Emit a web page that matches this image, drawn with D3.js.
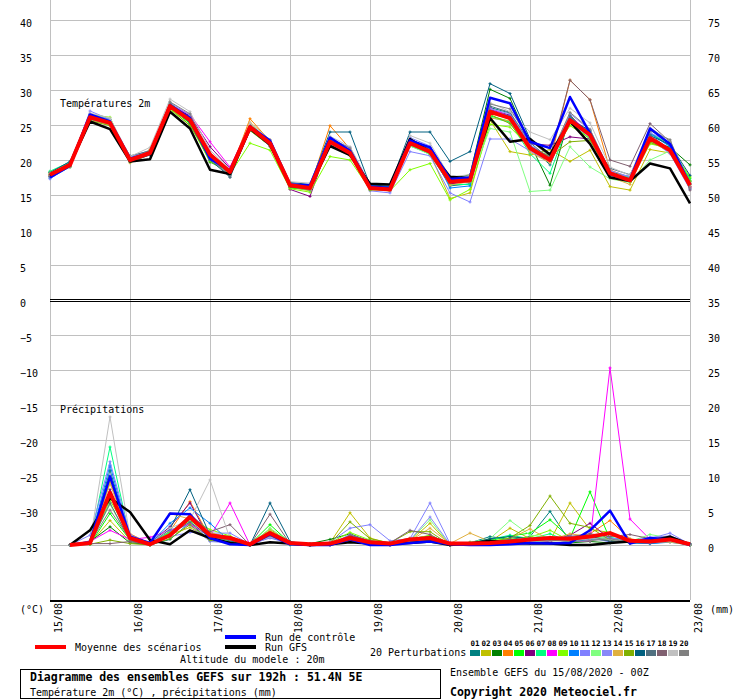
<!DOCTYPE html>
<html>
<head>
<meta charset="utf-8">
<script src="https://cdn.jsdelivr.net/npm/d3@7"></script>
<style>
  body { margin: 0; background: #fff; }
  svg { display: block; font-family: "DejaVu Sans Mono", monospace; }
</style>
</head>
<body>
<svg id="chart" width="740" height="700"></svg>
<script>
// GEFS ensemble 15/08/2020 00Z, 51.4N 5E : 2m temperature (every 6h, 0..192h)
// and precipitation (every 6h, 6..192h)

const dayLabels = ["15/08", "16/08", "17/08", "18/08", "19/08", "20/08", "21/08", "22/08", "23/08"];
const leftTicks = [-35, -30, -25, -20, -15, -10, -5, 0, 5, 10, 15, 20, 25, 30, 35, 40];

const pertColors = ["#008080", "#c0c000", "#008000", "#ff8000", "#00ff00", "#800080", "#00ff80", "#ff00ff",
  "#80ff00", "#0080ff", "#8080ff", "#80ff80", "#8888f8", "#e0b040", "#80b000", "#006080",
  "#507080", "#806070", "#c0c0c0", "#808080"];

const tempMean = [17.9, 19.3, 26.1, 25.3, 20.0, 21.0, 27.7, 25.7, 20.8, 18.3, 24.7, 22.4, 16.4, 16.0, 22.6, 21.0, 16.0, 15.8, 22.4, 21.2, 16.9, 17.1, 26.9, 26.0, 21.7, 20.0, 25.7, 23.6, 18.1, 17.1, 23.1, 21.4, 16.4];
const tempControl = [17.5, 19.2, 26.5, 25.5, 20.2, 21.0, 27.8, 26.0, 20.2, 18.5, 24.8, 22.8, 16.5, 16.4, 23.2, 21.3, 16.2, 16.0, 22.8, 21.8, 17.3, 17.5, 28.9, 28.1, 22.6, 21.7, 29.0, 23.8, 18.0, 17.2, 24.5, 22.3, 16.5];
const tempGfs = [17.8, 19.4, 25.5, 24.4, 19.8, 20.1, 26.9, 24.5, 18.6, 18.0, 24.5, 22.2, 16.3, 16.2, 22.0, 20.7, 16.6, 16.5, 23.0, 21.2, 17.6, 17.4, 26.0, 22.6, 23.0, 20.8, 25.5, 22.3, 17.5, 17.0, 19.5, 18.8, 13.8];

const tempPert = [
  [18.3, 19.6, 26.3, 25.6, 20.3, 21.2, 28.0, 26.2, 20.3, 18.0, 24.3, 22.0, 16.2, 16.3, 22.4, 20.8, 16.1, 16.2, 22.0, 21.0, 16.3, 16.6, 27.5, 26.7, 22.0, 19.3, 26.0, 24.0, 17.8, 17.3, 23.9, 22.0, 16.9],
  [18.0, 19.0, 25.8, 25.0, 19.6, 20.8, 27.4, 25.3, 20.6, 18.6, 25.2, 22.6, 16.1, 15.6, 22.9, 21.3, 16.3, 15.9, 22.2, 20.9, 14.5, 15.3, 25.7, 21.2, 20.7, 21.5, 19.8, 21.4, 16.2, 15.7, 21.5, 21.0, 16.0],
  [17.6, 19.4, 26.0, 25.1, 20.2, 21.1, 27.9, 25.5, 19.7, 18.4, 24.6, 22.3, 16.6, 16.3, 22.1, 20.8, 15.9, 16.1, 22.5, 21.4, 17.3, 17.9, 30.1, 28.8, 22.4, 16.4, 26.4, 23.5, 18.3, 17.6, 22.8, 21.8, 19.3],
  [17.8, 19.1, 26.4, 25.5, 20.1, 21.3, 27.6, 26.0, 20.9, 18.2, 25.9, 22.7, 16.5, 16.1, 24.9, 21.6, 16.2, 15.9, 22.9, 21.5, 17.0, 16.8, 26.6, 25.9, 21.4, 19.8, 31.4, 28.6, 18.6, 17.4, 23.3, 21.6, 16.7],
  [18.2, 19.5, 26.5, 25.8, 19.9, 20.9, 27.5, 25.2, 20.4, 18.6, 24.4, 22.1, 16.0, 15.8, 22.3, 20.9, 16.1, 15.7, 22.6, 21.1, 16.7, 17.3, 26.3, 25.5, 21.9, 20.4, 25.3, 23.0, 17.9, 16.8, 22.7, 21.3, 17.4],
  [17.7, 19.2, 25.9, 25.2, 20.4, 20.9, 27.8, 26.3, 21.9, 18.8, 24.9, 22.5, 15.8, 14.8, 22.8, 21.4, 15.9, 15.6, 22.2, 21.3, 16.6, 16.9, 27.2, 26.4, 22.3, 22.1, 23.3, 23.0, 18.0, 17.0, 22.9, 21.1, 16.2],
  [18.4, 19.7, 26.2, 25.4, 20.3, 21.2, 28.1, 25.9, 20.1, 17.9, 24.5, 22.2, 16.3, 16.1, 22.7, 21.1, 15.8, 15.9, 22.1, 20.8, 16.5, 16.5, 26.1, 25.4, 20.9, 18.1, 25.9, 23.4, 18.2, 17.5, 23.7, 22.4, 17.1],
  [17.9, 19.3, 26.0, 25.3, 20.1, 20.8, 27.9, 26.5, 22.6, 19.0, 24.8, 22.6, 16.4, 15.9, 23.2, 21.5, 16.4, 15.8, 23.0, 21.6, 17.1, 17.2, 27.4, 26.2, 21.6, 20.2, 26.2, 23.9, 18.4, 17.0, 23.4, 21.2, 16.1],
  [18.1, 19.1, 26.5, 26.1, 19.9, 21.2, 27.2, 25.0, 19.8, 18.0, 22.4, 21.4, 15.9, 15.4, 20.5, 20.0, 15.8, 15.6, 18.6, 19.5, 14.3, 15.8, 25.1, 24.7, 21.8, 20.6, 24.9, 23.1, 17.6, 16.9, 22.3, 21.7, 17.6],
  [17.4, 19.0, 26.1, 25.1, 20.2, 21.0, 27.5, 25.6, 20.5, 18.1, 24.9, 22.4, 16.6, 16.4, 22.5, 21.2, 16.3, 16.1, 22.7, 21.7, 16.0, 16.3, 27.0, 26.3, 22.1, 19.9, 26.1, 23.7, 17.7, 17.3, 23.8, 21.9, 16.6],
  [17.3, 19.2, 27.0, 25.8, 20.4, 21.4, 27.6, 25.4, 20.2, 17.8, 24.6, 22.2, 16.7, 16.2, 22.2, 20.8, 15.6, 15.3, 21.2, 20.6, 15.3, 14.0, 23.0, 23.0, 21.3, 19.6, 25.4, 23.2, 18.0, 17.7, 23.0, 20.9, 15.8],
  [18.3, 19.5, 26.2, 25.6, 20.0, 21.1, 27.7, 25.8, 20.7, 18.5, 24.8, 22.7, 16.2, 15.7, 22.4, 20.7, 16.4, 16.0, 22.0, 20.8, 16.8, 17.0, 24.5, 24.0, 15.5, 15.7, 21.9, 19.0, 17.3, 16.8, 20.0, 21.3, 16.9],
  [17.6, 19.6, 26.6, 25.7, 20.5, 20.8, 28.2, 26.4, 21.0, 18.6, 24.7, 22.9, 16.6, 16.1, 23.0, 21.8, 16.5, 16.3, 23.2, 22.0, 17.4, 17.3, 27.3, 26.6, 22.2, 20.3, 26.6, 24.3, 18.5, 17.6, 23.9, 22.5, 15.9],
  [17.8, 19.0, 25.7, 25.0, 19.7, 21.5, 27.3, 25.5, 20.8, 18.3, 25.4, 22.9, 16.3, 15.8, 22.6, 21.0, 16.0, 15.7, 22.4, 21.4, 16.4, 16.9, 26.0, 25.6, 21.1, 19.6, 25.6, 23.6, 17.6, 16.5, 22.6, 21.2, 16.3],
  [18.0, 19.4, 25.6, 24.9, 20.2, 21.0, 27.4, 24.9, 20.3, 18.2, 24.2, 22.0, 16.1, 15.9, 22.0, 20.6, 15.7, 15.8, 22.3, 20.9, 16.9, 17.0, 26.5, 25.2, 21.5, 20.5, 22.6, 22.8, 17.9, 17.2, 22.5, 21.5, 17.0],
  [18.2, 19.8, 26.4, 25.2, 19.8, 20.7, 27.8, 25.3, 20.0, 17.6, 24.5, 22.1, 16.8, 16.5, 24.0, 24.0, 16.4, 16.3, 24.0, 24.0, 19.8, 21.2, 30.9, 29.5, 23.0, 20.8, 25.8, 24.2, 17.9, 17.2, 23.5, 22.2, 17.8],
  [17.6, 19.1, 25.9, 25.5, 20.6, 21.3, 28.1, 26.0, 20.4, 17.5, 24.3, 22.2, 16.5, 16.3, 22.8, 20.9, 16.2, 16.0, 22.7, 21.6, 17.2, 17.0, 27.7, 26.8, 22.5, 20.1, 26.3, 23.3, 18.8, 17.9, 23.6, 21.5, 16.5],
  [17.9, 19.4, 26.3, 25.3, 20.0, 21.2, 27.9, 25.9, 20.6, 18.4, 24.9, 22.3, 16.6, 16.1, 22.5, 21.4, 16.1, 15.9, 22.5, 21.0, 16.7, 17.4, 27.1, 25.8, 22.0, 20.4, 31.4, 28.6, 20.0, 19.1, 25.2, 22.6, 15.7],
  [18.1, 19.5, 26.7, 26.0, 20.5, 21.8, 28.7, 26.9, 21.4, 18.7, 25.3, 22.9, 16.9, 16.7, 23.4, 21.9, 16.6, 16.4, 23.5, 22.4, 17.6, 17.9, 28.2, 26.9, 24.0, 22.9, 27.4, 25.3, 19.0, 17.8, 24.6, 22.8, 16.6],
  [17.7, 19.3, 25.8, 25.1, 19.7, 20.9, 28.3, 26.6, 20.1, 17.8, 24.6, 21.9, 16.2, 15.7, 23.1, 21.7, 16.2, 15.8, 22.9, 21.8, 17.0, 17.6, 28.0, 27.3, 22.8, 20.5, 26.8, 24.4, 18.3, 17.1, 24.2, 22.9, 16.0]
];

const precipMean = [0.0, 0.3, 7.5, 1.0, 0.1, 1.4, 4.0, 1.4, 1.0, 0.1, 1.7, 0.3, 0.1, 0.2, 1.0, 0.4, 0.2, 0.8, 1.0, 0.2, 0.2, 0.3, 0.5, 0.8, 1.0, 0.9, 1.2, 1.7, 0.6, 0.5, 0.8, 0.1];
const precipControl = [0.0, 0.4, 9.8, 1.2, 0.3, 4.5, 4.4, 1.0, 0.1, 0.0, 1.5, 0.1, 0.0, 0.0, 0.8, 0.0, 0.0, 0.3, 0.5, 0.1, 0.0, 0.0, 0.1, 0.3, 0.2, 0.3, 2.1, 4.9, 0.2, 1.0, 0.8, 0.0];
const precipGfs = [0.0, 2.1, 6.7, 4.7, 0.7, 0.1, 2.1, 1.0, 0.3, 0.0, 0.4, 0.2, 0.0, 0.1, 0.4, 0.2, 0.2, 0.3, 0.5, 0.0, 0.2, 0.6, 0.3, 0.2, 0.2, 0.0, 0.0, 0.3, 0.5, 0.6, 1.2, 0.1];

const precipPert = [
  [0.0, 0.3, 10.7, 0.8, 0.0, 0.8, 3.2, 0.6, 0.4, 0.0, 1.2, 0.1, 0.0, 0.0, 0.6, 0.2, 0.0, 0.4, 0.7, 0.0, 0.3, 1.2, 0.8, 1.2, 4.8, 0.5, 1.0, 0.6, 0.3, 0.2, 0.5, 0.0],
  [0.0, 0.2, 3.5, 0.5, 0.2, 1.5, 2.5, 0.9, 0.5, 0.0, 1.8, 0.2, 0.0, 0.3, 4.6, 1.0, 0.2, 0.6, 3.1, 0.0, 0.4, 0.5, 2.4, 0.9, 0.6, 6.0, 2.2, 1.8, 0.3, 0.4, 0.7, 0.0],
  [0.0, 0.5, 2.6, 0.3, 0.1, 1.2, 3.8, 1.3, 0.7, 0.0, 1.9, 0.4, 0.2, 0.8, 1.6, 0.5, 0.1, 0.5, 0.8, 0.0, 0.2, 0.4, 0.6, 0.5, 0.4, 0.3, 0.5, 0.3, 0.6, 0.8, 1.0, 0.1],
  [0.0, 0.4, 9.0, 1.6, 0.2, 2.0, 6.2, 1.1, 0.8, 0.0, 2.3, 0.2, 0.0, 0.1, 0.9, 0.3, 0.3, 1.0, 0.7, 0.0, 0.1, 0.3, 0.5, 0.7, 0.8, 1.1, 1.6, 3.5, 0.9, 0.4, 0.6, 0.0],
  [0.0, 0.1, 4.5, 0.7, 0.0, 1.8, 3.5, 1.6, 1.2, 0.1, 2.9, 0.3, 0.0, 0.2, 1.2, 0.4, 0.2, 0.6, 1.0, 0.1, 0.2, 0.6, 1.3, 1.7, 3.6, 1.0, 7.6, 0.8, 0.4, 0.6, 0.9, 0.2],
  [0.0, 0.2, 7.9, 1.1, 0.3, 2.6, 6.0, 0.8, 0.2, 0.0, 1.4, 0.3, 0.1, 0.2, 1.3, 0.6, 0.0, 0.9, 1.3, 0.3, 0.2, 0.2, 0.4, 0.3, 0.5, 1.4, 3.1, 0.9, 0.5, 0.3, 0.6, 0.1],
  [0.0, 0.3, 14.0, 0.9, 0.2, 1.9, 4.0, 1.5, 0.9, 0.0, 1.8, 0.0, 0.0, 0.1, 0.7, 0.3, 0.1, 0.4, 0.6, 0.0, 0.3, 0.8, 1.4, 0.9, 1.6, 0.4, 1.2, 1.1, 0.6, 0.5, 1.1, 0.0],
  [0.0, 0.5, 2.1, 0.8, 1.1, 2.1, 3.0, 1.2, 6.0, 0.0, 1.6, 0.1, 0.0, 0.2, 0.5, 0.1, 0.0, 0.6, 0.9, 0.0, 0.1, 0.2, 0.3, 0.4, 0.2, 0.5, 0.6, 25.3, 3.7, 0.8, 0.5, 0.0],
  [0.0, 0.2, 6.4, 1.4, 0.1, 1.7, 3.9, 2.2, 1.3, 0.0, 2.1, 0.3, 0.0, 0.3, 1.8, 0.7, 0.2, 0.8, 1.4, 0.1, 0.3, 0.5, 1.0, 1.1, 2.1, 0.6, 1.4, 0.7, 0.4, 0.7, 0.8, 0.1],
  [0.0, 0.4, 11.4, 1.0, 0.2, 3.1, 5.3, 3.1, 0.5, 0.0, 1.3, 0.2, 0.0, 0.0, 1.1, 0.4, 0.0, 0.5, 0.8, 0.0, 0.2, 0.3, 0.5, 0.6, 0.9, 0.4, 0.8, 0.9, 0.3, 0.2, 0.4, 0.0],
  [0.0, 1.4, 11.9, 1.5, 0.2, 1.2, 1.8, 1.7, 1.7, 0.1, 1.0, 0.2, 0.0, 0.4, 2.4, 2.9, 0.6, 0.9, 6.0, 0.2, 0.3, 0.4, 0.6, 0.5, 1.0, 0.7, 1.3, 1.0, 0.7, 0.9, 1.7, 0.1],
  [0.0, 0.3, 5.8, 0.6, 0.1, 1.4, 3.4, 1.0, 0.6, 0.0, 2.4, 0.4, 0.0, 0.2, 0.8, 0.2, 0.0, 0.7, 3.6, 0.0, 0.4, 0.9, 3.5, 1.4, 1.1, 0.8, 1.5, 0.8, 0.5, 1.5, 1.0, 0.0],
  [0.0, 0.6, 10.0, 1.3, 0.3, 2.2, 2.8, 0.5, 0.3, 0.0, 1.1, 0.2, 0.0, 0.1, 1.5, 0.5, 0.3, 0.7, 4.0, 0.1, 0.2, 0.3, 0.7, 0.8, 0.6, 1.3, 1.1, 0.4, 0.6, 1.1, 1.3, 0.2],
  [0.0, 0.3, 8.8, 0.9, 0.1, 4.5, 3.7, 1.8, 1.0, 0.0, 2.0, 0.3, 0.1, 0.3, 0.9, 0.3, 0.2, 0.6, 2.4, 0.2, 1.7, 0.5, 0.9, 2.3, 0.7, 1.6, 1.2, 0.6, 0.4, 0.5, 0.4, 0.0],
  [0.0, 0.1, 0.7, 0.2, 0.0, 0.9, 2.9, 0.7, 0.4, 0.0, 1.7, 0.2, 0.0, 0.2, 3.3, 0.9, 0.3, 1.9, 1.9, 0.0, 0.1, 0.4, 1.0, 2.8, 7.0, 3.1, 2.5, 0.7, 0.3, 0.6, 0.5, 0.0],
  [0.0, 0.4, 9.6, 1.2, 0.2, 2.3, 7.9, 1.4, 0.6, 0.0, 6.0, 0.5, 0.0, 0.1, 1.2, 0.3, 0.1, 0.5, 0.9, 0.0, 0.2, 0.9, 1.2, 0.9, 0.8, 0.7, 1.3, 0.5, 0.7, 0.5, 0.6, 0.0],
  [0.0, 0.2, 6.0, 0.6, 0.1, 1.6, 3.3, 1.1, 0.8, 0.0, 1.5, 0.1, 0.0, 0.1, 1.0, 0.4, 0.1, 0.8, 1.2, 0.0, 0.3, 0.4, 0.8, 0.7, 0.9, 0.6, 0.9, 0.6, 0.5, 0.8, 0.9, 0.1],
  [0.0, 0.2, 0.2, 0.5, 0.0, 1.3, 4.4, 1.9, 2.9, 0.0, 4.4, 0.2, 0.0, 0.0, 1.4, 0.6, 0.3, 2.1, 1.5, 0.0, 0.2, 0.3, 0.6, 1.0, 0.9, 1.2, 1.6, 1.2, 1.5, 0.9, 1.1, 0.1],
  [0.0, 0.4, 18.3, 1.2, 0.2, 2.4, 3.6, 9.3, 0.9, 0.0, 1.2, 0.3, 0.0, 0.0, 0.6, 0.2, 0.1, 0.4, 0.5, 0.0, 0.2, 0.3, 0.5, 0.5, 0.6, 0.6, 0.9, 0.8, 0.4, 0.4, 0.5, 0.0],
  [0.0, 0.3, 5.0, 0.8, 0.1, 1.5, 4.2, 1.1, 0.7, 0.0, 1.3, 0.1, 0.0, 0.1, 0.7, 0.3, 0.1, 0.5, 0.8, 0.0, 0.1, 0.3, 0.5, 0.6, 0.7, 0.5, 0.6, 0.9, 0.3, 0.4, 0.7, 0.1]
];

// layout
const X0 = 50, X1 = 690;
const STEP_H = 6;

const svg = d3.select("#chart");
svg.append("rect").attr("width", 740).attr("height", 700).attr("fill", "#fff");

const x = d3.scaleLinear().domain([0, 192]).range([X0, X1]);
const yLeft = d3.scaleLinear().domain([-35, 40]).range([545, 20]);   // temperature axis (°C)
const yTemp = yLeft;
const yPrecip = d3.scaleLinear().domain([0, 35]).range([545, 300]);  // precipitation (mm)

// horizontal grid
const grid = svg.append("g").attr("shape-rendering", "crispEdges");
grid.append("g")
  .attr("transform", `translate(${X0},0)`)
  .call(d3.axisLeft(yLeft).tickValues(leftTicks.filter(v => v !== 0)).tickSize(-(X1 - X0)).tickFormat(""))
  .call(g => g.select(".domain").remove())
  .call(g => g.selectAll("line").attr("stroke", "#c0c0c0"));

// vertical grid (one line per day)
grid.append("g")
  .attr("transform", "translate(0,600)")
  .call(d3.axisBottom(x).tickValues(d3.range(0, 193, 24)).tickSize(-600).tickFormat(""))
  .call(g => g.select(".domain").remove())
  .call(g => g.selectAll("line").attr("stroke", "#c0c0c0"));

// separator double line and bottom axis
grid.append("line").attr("x1", X0).attr("x2", X1).attr("y1", yLeft(0) - 1).attr("y2", yLeft(0) - 1).attr("stroke", "#000");
grid.append("line").attr("x1", X0).attr("x2", X1).attr("y1", yLeft(0) + 1).attr("y2", yLeft(0) + 1).attr("stroke", "#000");
grid.append("line").attr("x1", X0).attr("x2", X1).attr("y1", 600.5).attr("y2", 600.5).attr("stroke", "#000").attr("stroke-width", 2);

// left tick labels
svg.append("g")
  .attr("transform", "translate(20,0)")
  .call(d3.axisLeft(yLeft).tickValues(leftTicks).tickSize(0).tickPadding(0))
  .call(g => g.select(".domain").remove())
  .call(g => g.selectAll("text")
    .attr("text-anchor", "start").attr("x", 0).attr("dy", "0.6em")
    .attr("font-family", "DejaVu Sans Mono").attr("font-size", 10).attr("fill", "#000"));

// right tick labels: same grid, precipitation-offset values
svg.append("g")
  .attr("transform", "translate(708,0)")
  .call(d3.axisRight(yLeft).tickValues(leftTicks).tickSize(0).tickPadding(0).tickFormat(v => v + 35))
  .call(g => g.select(".domain").remove())
  .call(g => g.selectAll("text")
    .attr("text-anchor", "start").attr("x", 0).attr("dy", "0.6em")
    .attr("font-family", "DejaVu Sans Mono").attr("font-size", 10).attr("fill", "#000"));

// day labels, vertical
svg.append("g")
  .attr("transform", "translate(0,603)")
  .call(d3.axisBottom(x).tickValues(d3.range(0, 193, 24)).tickSize(0).tickFormat((d, i) => dayLabels[i]))
  .call(g => g.select(".domain").remove())
  .call(g => g.selectAll("text")
    .attr("transform", "rotate(-90)")
    .attr("text-anchor", "end").attr("x", 0).attr("y", 0).attr("dx", 0).attr("dy", "1.15em")
    .attr("font-family", "DejaVu Sans Mono").attr("font-size", 10).attr("fill", "#000"));

const txt = (s, px, py, opts = {}) => svg.append("text")
  .attr("x", px).attr("y", py)
  .attr("font-size", opts.size || 10)
  .attr("font-weight", opts.bold ? "bold" : "normal")
  .attr("fill", "#000")
  .text(s);

txt("(°C)", 20, 613);
txt("(mm)", 710, 613);
txt("Températures 2m", 60, 107);
txt("Précipitations", 60, 413);

// series
const tempHours = tempMean.map((d, i) => i * STEP_H);
const precipHours = precipMean.map((d, i) => (i + 1) * STEP_H);

const tempLine = d3.line().x((d, i) => x(tempHours[i])).y(d => yTemp(d));
const precipLine = d3.line().x((d, i) => x(precipHours[i])).y(d => yPrecip(d));

const plot = svg.append("g");

function drawPert(values, line, hours, yScale, color) {
  plot.append("path").datum(values)
    .attr("d", line).attr("fill", "none").attr("stroke", color).attr("stroke-width", 1);
  plot.append("g").selectAll("path").data(values).join("path")
    .attr("d", (d, i) => {
      const px = x(hours[i]), py = yScale(d);
      return `M${px - 1.5},${py}H${px + 1.5}M${px},${py - 1.5}V${py + 1.5}`;
    })
    .attr("stroke", color).attr("stroke-width", 1);
}

tempPert.forEach((s, k) => drawPert(s, tempLine, tempHours, yTemp, pertColors[k]));
precipPert.forEach((s, k) => drawPert(s, precipLine, precipHours, yPrecip, pertColors[k]));

function drawMain(values, line, color, w) {
  plot.append("path").datum(values)
    .attr("d", line).attr("fill", "none").attr("stroke", color)
    .attr("stroke-width", w).attr("stroke-linejoin", "round");
}

drawMain(tempGfs, tempLine, "#000", 2.5);
drawMain(precipGfs, precipLine, "#000", 2.5);
drawMain(tempControl, tempLine, "#0000ff", 2.5);
drawMain(precipControl, precipLine, "#0000ff", 2.5);
drawMain(tempMean, tempLine, "#ff0000", 4);
drawMain(precipMean, precipLine, "#ff0000", 4);

// legend
svg.append("rect").attr("x", 35).attr("y", 645).attr("width", 31).attr("height", 4).attr("fill", "#ff0000");
txt("Moyenne des scénarios", 75, 651);
svg.append("rect").attr("x", 225).attr("y", 635).attr("width", 31).attr("height", 4).attr("fill", "#0000ff");
txt("Run de contrôle", 265, 641);
svg.append("rect").attr("x", 225).attr("y", 645).attr("width", 31).attr("height", 4).attr("fill", "#000");
txt("Run GFS", 265, 651);
txt("Altitude du modele : 20m", 180, 663);

txt("20 Perturbations", 370, 656);
const boxes = svg.append("g");
pertColors.forEach((c, k) => {
  const bx = 470 + k * 11;
  boxes.append("rect").attr("x", bx).attr("y", 650).attr("width", 10).attr("height", 6).attr("fill", c);
  boxes.append("text").attr("x", bx + 5).attr("y", 646).attr("text-anchor", "middle")
    .attr("font-size", 7.5).attr("font-weight", "bold").attr("fill", "#000")
    .text(String(k + 1).padStart(2, "0"));
});

svg.append("rect").attr("x", 20.5).attr("y", 669.5).attr("width", 420).attr("height", 29)
  .attr("fill", "none").attr("stroke", "#000");
txt("Diagramme des ensembles GEFS sur 192h : 51.4N 5E", 30, 681, { size: 11.5, bold: true });
txt("Température 2m (°C) , précipitations (mm)", 30, 696);
txt("Ensemble GEFS du 15/08/2020 - 00Z", 450, 676);
txt("Copyright 2020 Meteociel.fr", 450, 696, { size: 11.5, bold: true });
</script>
</body>
</html>
